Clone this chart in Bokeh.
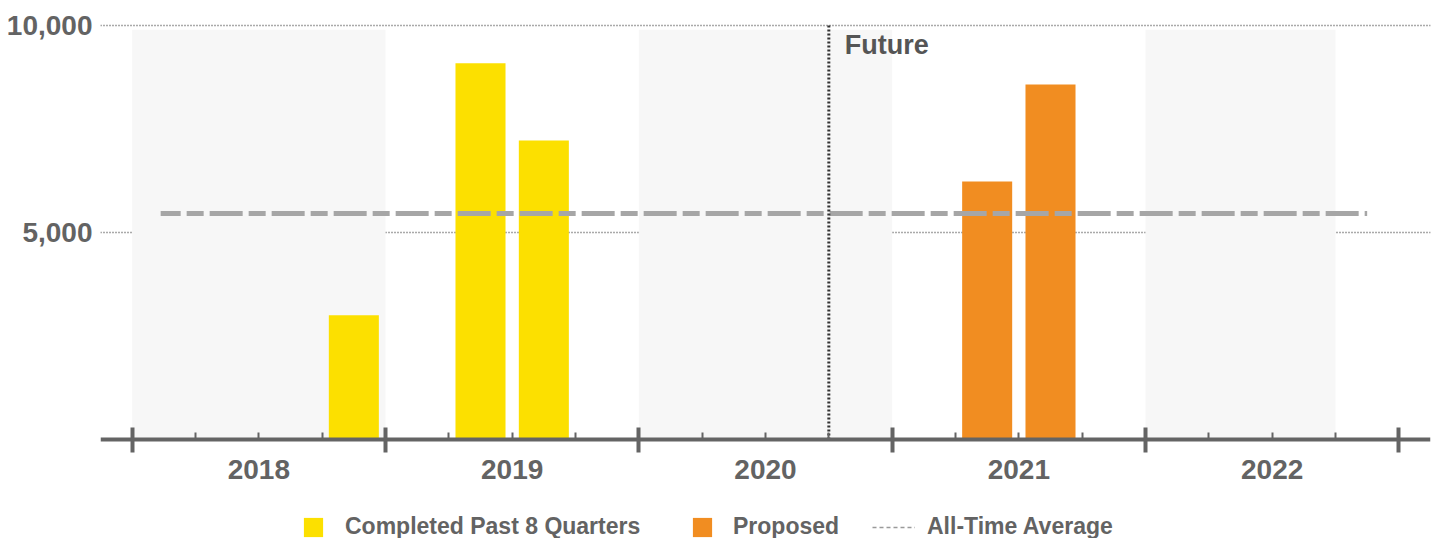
from bokeh.plotting import figure
from bokeh.models import (Range1d, FixedTicker, LinearAxis, NumeralTickFormatter,
                          Legend, LegendItem, Grid)
from bokeh.core.properties import value
from bokeh.embed import file_html
from bokeh.resources import INLINE

# ---- data -------------------------------------------------------------
years = ["2018", "2019", "2020", "2021", "2022"]
completed_quarters = ["2018 Q4", "2019 Q2", "2019 Q3"]
completed_values = [3000, 9090, 7220]
proposed_quarters = ["2021 Q2", "2021 Q3"]
proposed_values = [6230, 8575]
all_time_average = 5460
average_span = ["2018 Q1", "2022 Q4"]
future_starts = "2020 Q4"
shaded_starts = ["2018 Q1", "2020 Q1", "2022 Q1"]
shaded_ends = ["2018 Q4", "2020 Q4", "2022 Q3"]
y_ticks = [5000, 10000]

# ---- styling ----------------------------------------------------------
FONT = "Liberation Sans"
TEXT = "#636363"
YELLOW = "#FCE000"
ORANGE = "#F18D21"
AVG_GREY = "#A6A6A6"
BAND = "#F7F7F7"
AXIS = "#646464"


def q_index(label):
    """Position of a 'YYYY Qn' label on a quarter axis starting at the first year."""
    y, q = label.split(" Q")
    return (int(y) - int(years[0])) * 4 + int(q) - 1


n_quarters = len(years) * 4
year_bounds = [i * 4 for i in range(len(years) + 1)]
quarter_minor = [q for q in range(n_quarters) if q % 4 != 0]
year_centers = [i * 4 + 2 for i in range(len(years))]

# the frame runs down to the page bottom so the legend can sit below the axis
p = figure(width=1444, height=538,
           x_range=Range1d(-0.5, n_quarters + 0.5), y_range=Range1d(-2391, 10121),
           x_axis_type=None, y_axis_type=None,
           output_backend="svg", toolbar_location=None,
           min_border_left=100, min_border_right=14,
           min_border_top=20, min_border_bottom=0)
p.outline_line_color = None
p.background_fill_color = "white"
p.border_fill_color = "white"

# alternating shaded year bands
p.quad(left=[q_index(s) for s in shaded_starts],
       right=[q_index(e) + 1 for e in shaded_ends],
       bottom=0, top=9900, fill_color=BAND, line_color=None)

# horizontal dotted grid
p.add_layout(Grid(dimension=1, ticker=FixedTicker(ticks=y_ticks),
                  grid_line_color="#555555", grid_line_dash="1 2",
                  grid_line_width=1.5))

# bars
bar_w = 0.79
r_done = p.vbar(x=[q_index(q) + 0.5 for q in completed_quarters], top=completed_values,
                width=bar_w, bottom=0, fill_color=YELLOW, line_color=None)
r_prop = p.vbar(x=[q_index(q) + 0.5 for q in proposed_quarters], top=proposed_values,
                width=bar_w, bottom=0, fill_color=ORANGE, line_color=None)

# all-time average
p.line(x=[q_index(average_span[0]) + 0.45, q_index(average_span[1]) + 0.5],
       y=[all_time_average, all_time_average],
       line_color=AVG_GREY, line_width=5, line_dash="33 6 17 6", line_dash_offset=13)
# key entry for the average (a single undrawn point, only its legend swatch shows)
r_avg_key = p.line(x=[float("nan")], y=[float("nan")], line_color="#9a9a9a",
                   line_width=1.5, line_dash="4 3")

# future divider
fx = q_index(future_starts)
p.segment(x0=[fx], y0=[0], x1=[fx], y1=[y_ticks[-1]],
          line_color="#333333", line_width=3, line_dash="2 2")
p.text(x=[fx], y=[y_ticks[-1]], text=["Future"], x_offset=16, y_offset=4,
       text_baseline="top", text_align="left",
       text_font=value(FONT), text_font_style="bold", text_font_size="27px",
       text_color="#555555")

# y axis
yaxis = LinearAxis(ticker=FixedTicker(ticks=y_ticks),
                   formatter=NumeralTickFormatter(format="0,0"),
                   axis_line_color=None, major_tick_line_color=None,
                   minor_tick_line_color=None, major_tick_in=0, major_tick_out=0,
                   major_label_standoff=8,
                   major_label_text_font=FONT, major_label_text_font_style="bold",
                   major_label_text_font_size="28px", major_label_text_color=TEXT)
p.add_layout(yaxis, "left")

# x axis at zero: year boundaries and quarter ticks
tick_axis = LinearAxis(fixed_location=0,
                       ticker=FixedTicker(ticks=year_bounds, minor_ticks=quarter_minor),
                       major_label_overrides={t: "" for t in year_bounds},
                       axis_line_color=AXIS, axis_line_width=4,
                       major_tick_line_color=AXIS, major_tick_line_width=4,
                       major_tick_in=12, major_tick_out=13,
                       minor_tick_line_color=AXIS, minor_tick_line_width=2,
                       minor_tick_in=7, minor_tick_out=0,
                       major_label_standoff=0, major_label_text_font_size="2px")
p.add_layout(tick_axis, "below")

# year names centred in each year
year_axis = LinearAxis(fixed_location=0,
                       ticker=FixedTicker(ticks=year_centers),
                       major_label_overrides={c: y for c, y in zip(year_centers, years)},
                       axis_line_color=None, major_tick_line_color=None,
                       minor_tick_line_color=None, major_tick_in=0, major_tick_out=0,
                       major_label_standoff=20,
                       major_label_text_font=FONT, major_label_text_font_style="bold",
                       major_label_text_font_size="28px", major_label_text_color=TEXT)
p.add_layout(year_axis, "below")


def add_key(label, renderer, x, glyph_w, standoff):
    lg = Legend(items=[LegendItem(label=label, renderers=[renderer])],
                location=(x, -2), orientation="horizontal",
                glyph_width=glyph_w, glyph_height=24, label_height=24,
                label_standoff=standoff, padding=0, margin=0, spacing=0,
                border_line_color=None, background_fill_alpha=0,
                label_text_font=FONT, label_text_font_style="bold",
                label_text_font_size="23px", label_text_color=TEXT)
    p.add_layout(lg)


add_key("Completed Past 8 Quarters", r_done, 201, 24, 20)
add_key("Proposed", r_prop, 590, 24, 19)
add_key("All-Time Average", r_avg_key, 772, 43, 12)

open("out.html", "w").write(file_html(p, INLINE))
